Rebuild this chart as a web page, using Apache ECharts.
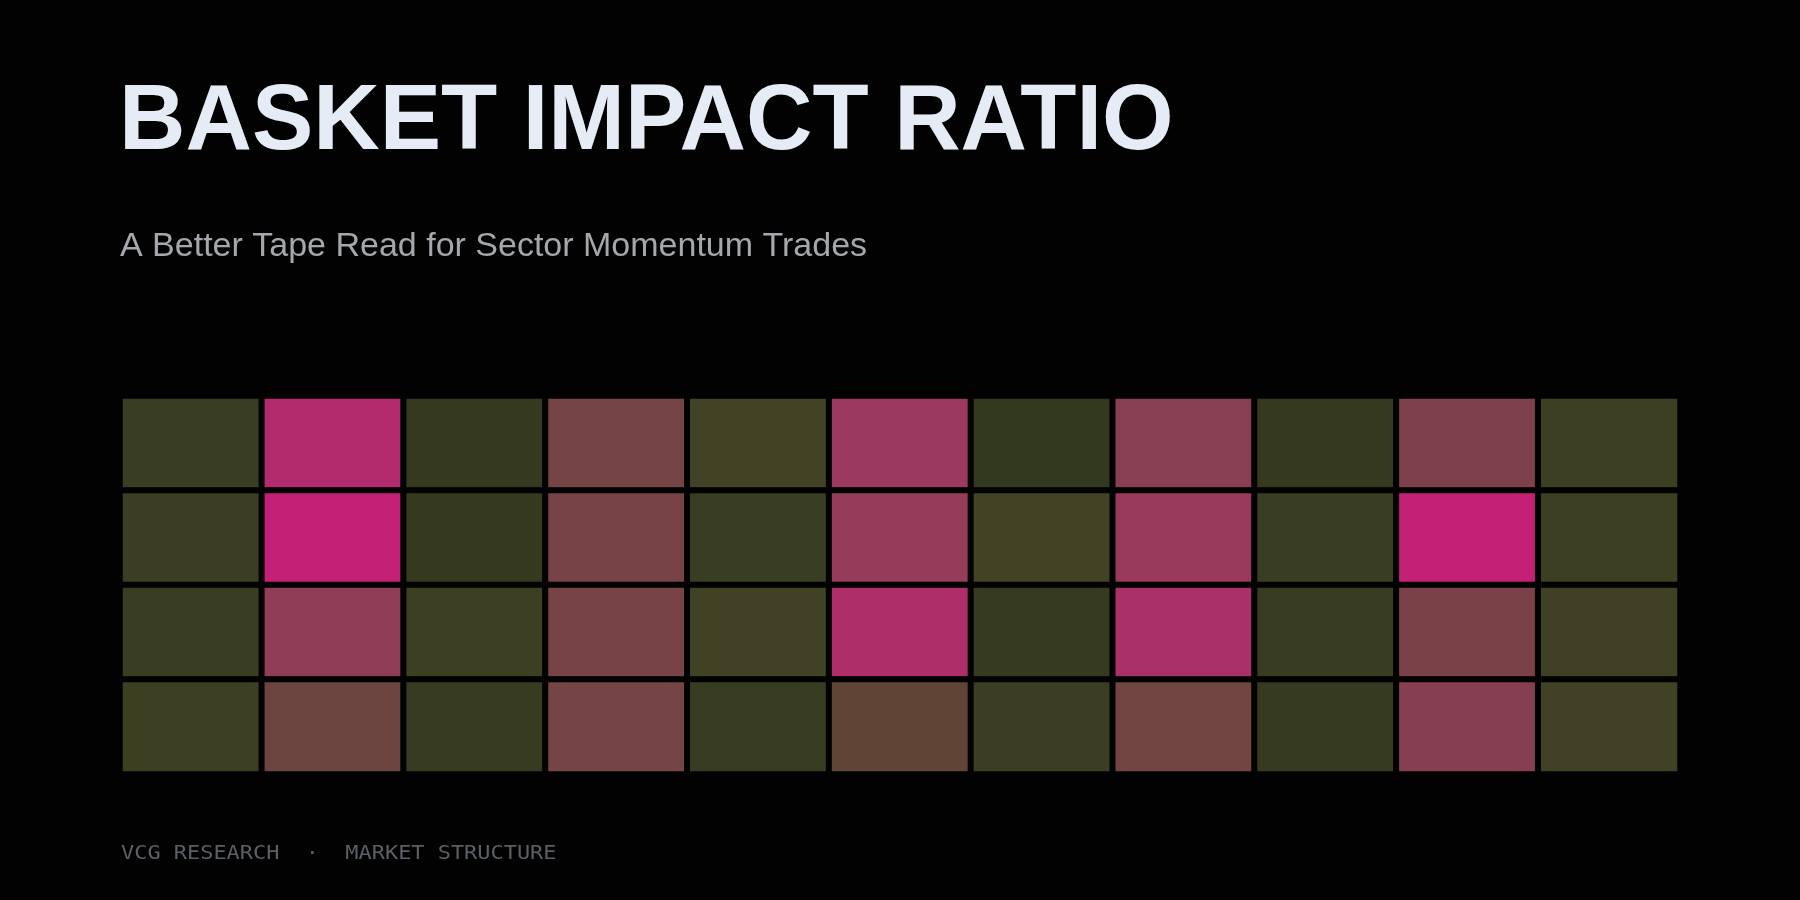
<!DOCTYPE html>
<html>
<head>
<meta charset="utf-8">
<script src="https://cdn.jsdelivr.net/npm/echarts@6/dist/echarts.min.js"></script>
<style>
  html, body { margin: 0; padding: 0; background: #020202; }
  #chart { width: 1800px; height: 900px; }
</style>
</head>
<body>
<div id="chart"></div>
<script>
// Column (basket) and row categories — the axes are hidden in the reference
const columns = ['B1', 'B2', 'B3', 'B4', 'B5', 'B6', 'B7', 'B8', 'B9', 'B10', 'B11'];
const rows = ['R1', 'R2', 'R3', 'R4'];

// Impact-ratio values per row (top to bottom) (scale 0-100)
const row1 = [10, 89.6, 2.8, 53.4, 22, 75, 1.4, 64, 4, 58.5, 14];
const row2 = [13, 100, 4, 55, 10, 71, 22, 74, 10, 100, 14];
const row3 = [10, 69, 14, 55, 21, 86.6, 5, 84, 8, 56, 19];
const row4 = [15, 49, 7, 53.4, 8, 41, 12, 51, 5, 63, 21];
const rowValues = [row1, row2, row3, row4];

const titleText = 'BASKET IMPACT RATIO';
const subtitleText = 'A Better Tape Read for Sector Momentum Trades';
const footerText = 'VCG RESEARCH  \u00b7  MARKET STRUCTURE';

const data = [];
rowValues.forEach((vals, r) => {
  vals.forEach((v, c) => data.push([c, r, v]));
});

const chart = echarts.init(document.getElementById('chart'), null, { renderer: 'canvas' });
chart.setOption({
  backgroundColor: '#020202',
  animation: false,
  grid: { left: 120, right: 120, top: 396, bottom: 126 },
  xAxis: { type: 'category', data: columns, show: false },
  yAxis: { type: 'category', data: rows, show: false, inverse: true },
  visualMap: {
    show: false,
    min: 0,
    max: 100,
    inRange: { color: ['#32381e', '#444426', '#6f4541', '#9b3a5e', '#c42176'] }
  },
  series: [{
    type: 'heatmap',
    data: data,
    itemStyle: { borderColor: '#020202', borderWidth: 6 },
    emphasis: { disabled: true }
  }],
  graphic: [
    {
      type: 'text', left: 119, top: 78,
      style: { text: titleText, fill: '#e6ecf6', font: 'bold 92px "Liberation Sans", Arial, sans-serif' }
    },
    {
      type: 'text', left: 120, top: 230,
      style: { text: subtitleText, fill: '#a4a7ac', font: '34px "Liberation Sans", Arial, sans-serif' }
    },
    {
      type: 'text', left: 121, top: 844, scaleX: 1.096,
      style: { text: footerText, fill: '#5b5f66', font: '20px "DejaVu Sans Mono", monospace' }
    }
  ]
});
</script>
</body>
</html>
